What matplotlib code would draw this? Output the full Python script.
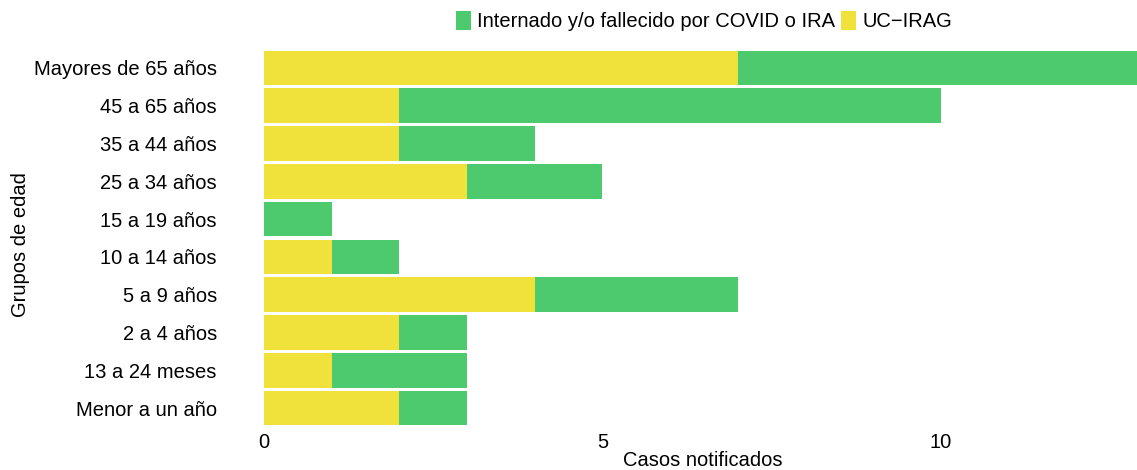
import matplotlib
matplotlib.use("Agg")
from matplotlib import pyplot as plt
import numpy as np

plt.rcParams["font.family"] = ["Liberation Sans", "DejaVu Sans"]

# age groups, bottom to top
grupos = ["Menor a un año", "13 a 24 meses", "2 a 4 años", "5 a 9 años",
          "10 a 14 años", "15 a 19 años", "25 a 34 años", "35 a 44 años",
          "45 a 65 años", "Mayores de 65 años"]
uc_irag = [2, 1, 2, 4, 1, 0, 3, 2, 2, 7]
internado = [1, 2, 1, 3, 1, 1, 2, 2, 8, 6]

col_uc = "#F0E23B"
col_int = "#4DC96E"
fs = 14.5

fig = plt.figure(figsize=(11.37, 4.70), dpi=100)
ax = fig.add_axes([264 / 1137, 43 / 470, 1 - 264 / 1137, 378 / 470])

y = np.arange(len(grupos))
ax.barh(y, uc_irag, height=0.92, color=col_uc, label="UC\u2212IRAG")
ax.barh(y, internado, left=uc_irag, height=0.92, color=col_int,
        label="Internado y/o fallecido por COVID o IRA")

ax.set_xlim(0, 12.9)
ax.set_ylim(-0.5, len(grupos) - 0.5)
ax.set_yticks(y)
ax.set_yticklabels(grupos, fontsize=fs)
ax.set_xticks([0, 5, 10])
ax.tick_params(axis="x", labelsize=fs, length=0, pad=4)
ax.tick_params(axis="y", length=0, pad=34)
for s in ax.spines.values():
    s.set_visible(False)

# axis titles placed in figure coords so they stay inside the canvas
fig.text(703 / 1137, 1 - 460 / 470, "Casos notificados",
         fontsize=fs, ha="center", va="center")
fig.text(20 / 1137, 1 - 245 / 470, "Grupos de edad", rotation=90,
         fontsize=fs, ha="center", va="center")

h, l = ax.get_legend_handles_labels()
fig.legend(h[::-1], l[::-1], loc="center", bbox_to_anchor=(704 / 1137, 1 - 21 / 470),
           ncol=2, frameon=False, fontsize=fs, handlelength=0.75, handleheight=1.1,
           handletextpad=0.3, columnspacing=0.3, borderpad=0)

fig.savefig("out.png", dpi=100)
